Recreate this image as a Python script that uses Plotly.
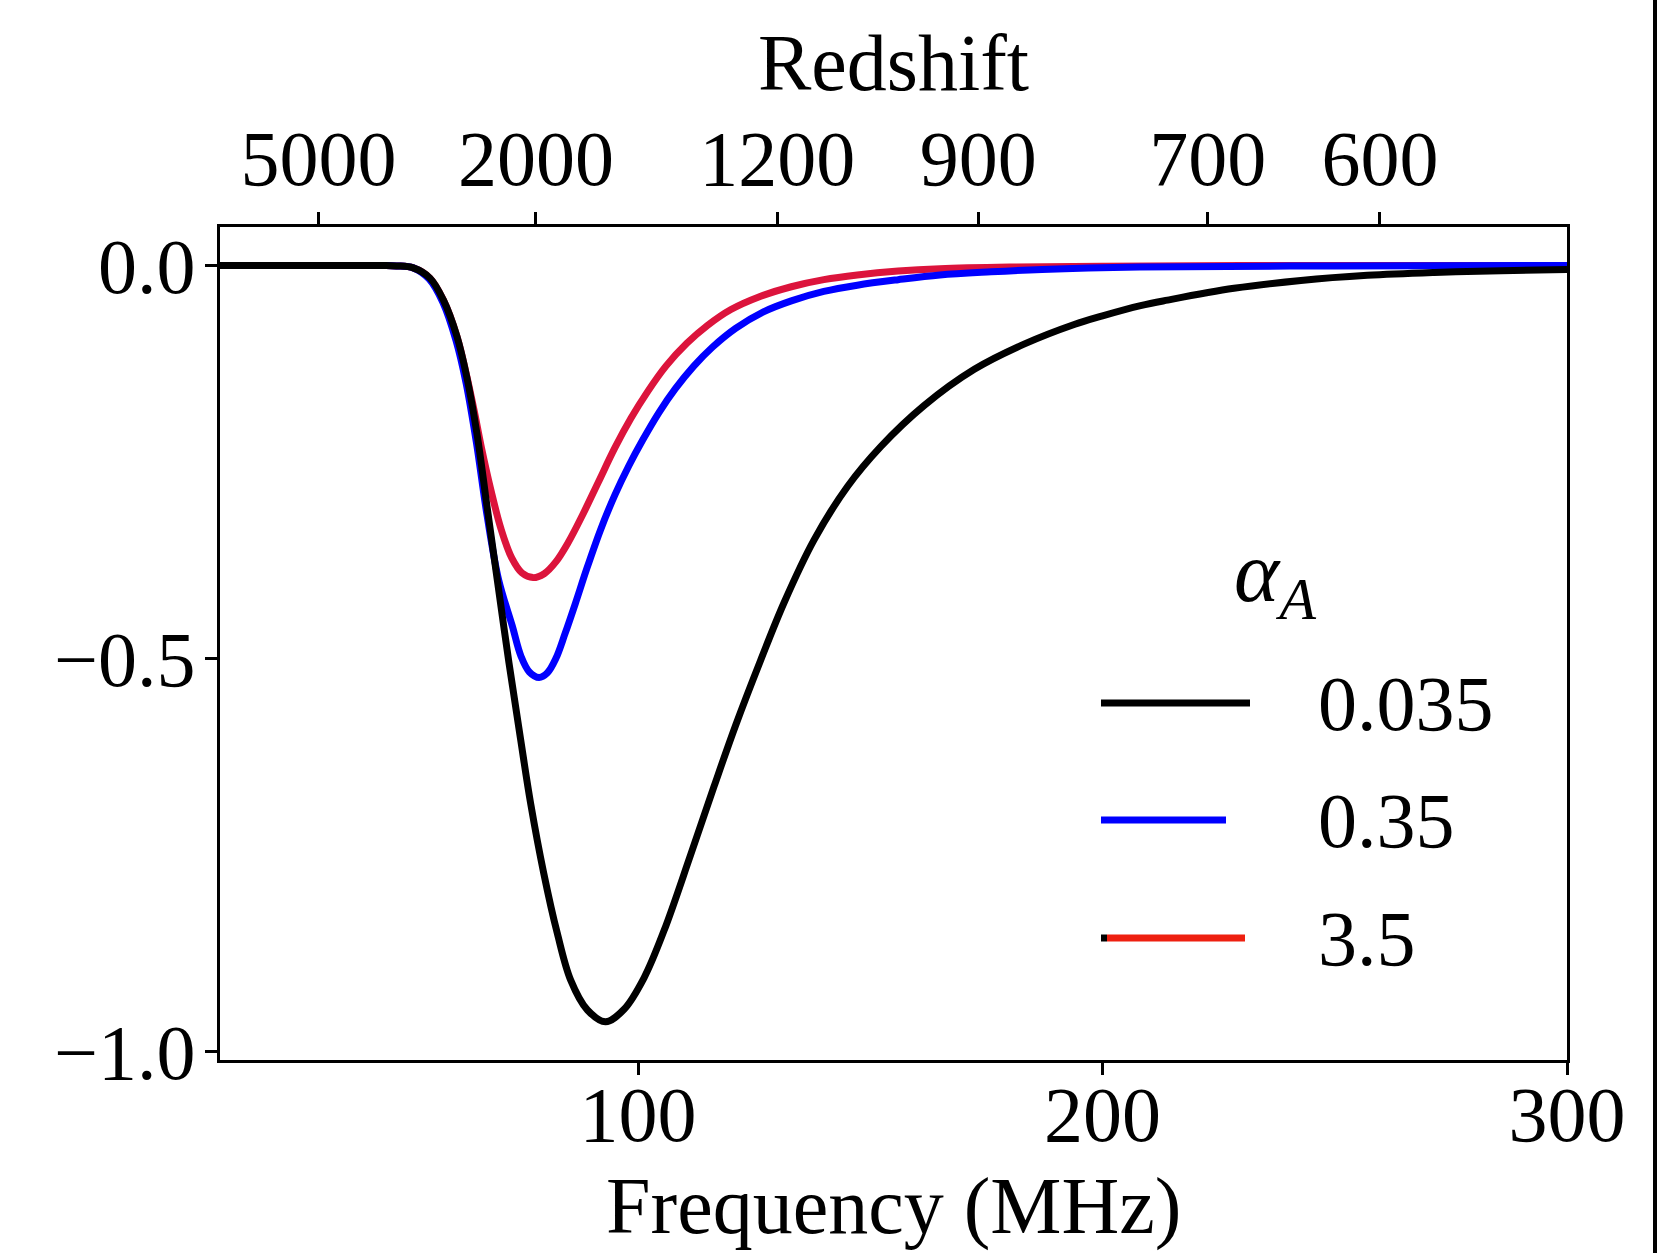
import plotly.graph_objects as go

# Absorption profile (normalised) versus frequency for three alpha_A values
freq_black = [10, 30, 45, 48, 51.6, 55.2, 58.1, 61.0, 63.1, 65.3, 67.5, 69.7, 72.2,
              74.7, 76.9, 79.7, 82.6, 85.5, 89.1, 93.0, 97.0, 101.3, 105.6, 111.3,
              116.4, 121.0, 126.4, 131.5, 137.9, 145.1, 152.3, 161.6, 172.4, 183.1,
              193.9, 200.0, 208.2, 214.0, 228.3, 242.7, 257.0, 271.4, 285.8, 300]
signal_black = [0, 0, 0, -0.0005, -0.003, -0.016, -0.044, -0.090, -0.141, -0.213, -0.307,
                -0.400, -0.505, -0.602, -0.685, -0.773, -0.849, -0.909, -0.947, -0.962,
                -0.946, -0.906, -0.846, -0.750, -0.662, -0.585, -0.502, -0.428, -0.349,
                -0.281, -0.230, -0.178, -0.132, -0.100, -0.075, -0.064, -0.051, -0.044,
                -0.029, -0.019, -0.0125, -0.0088, -0.0065, -0.005]

freq_blue = [10, 30, 45, 48, 51.6, 55.0, 58.0, 60.8, 63.0, 65.2, 67.5, 70.0, 72.9,
             74.8, 76.6, 78.7, 80.5, 82.3, 84.3, 86.5, 89.0, 92.0, 95.0, 98.0, 101.0,
             104.5, 108.0, 112.0, 116.0, 121.0, 127.0, 133.0, 140.0, 147.2, 156.0,
             165.0, 176.0, 187.0, 208.0, 250.0, 300]
signal_blue = [0, 0, 0, -0.0005, -0.003, -0.017, -0.047, -0.095, -0.150, -0.225, -0.318,
               -0.400, -0.458, -0.497, -0.517, -0.524, -0.518, -0.500, -0.468, -0.430,
               -0.385, -0.335, -0.292, -0.255, -0.222, -0.187, -0.157, -0.128, -0.104,
               -0.080, -0.059, -0.045, -0.033, -0.025, -0.018, -0.012, -0.008, -0.005,
               -0.002, -0.0005, 0]

freq_red = [10, 30, 45, 48, 51.6, 55.2, 58.1, 61.0, 63.1, 64.8, 66.3, 68.3, 70.5, 72.8,
            75.0, 77.4, 79.8, 82.3, 85.0, 88.0, 91.5, 95.0, 98.5, 102.0, 106.0, 110.5,
            115.0, 120.0, 126.0, 133.0, 140.0, 147.2, 156.0, 165.0, 180.0, 200.0, 230.0,
            300]
signal_red = [0, 0, 0, -0.0005, -0.003, -0.016, -0.044, -0.090, -0.140, -0.187, -0.232,
              -0.285, -0.335, -0.372, -0.391, -0.397, -0.392, -0.377, -0.352, -0.318,
              -0.275, -0.232, -0.194, -0.161, -0.128, -0.099, -0.076, -0.056, -0.040,
              -0.027, -0.018, -0.012, -0.007, -0.004, -0.002, -0.001, 0, 0]

alpha_labels = ["0.035", "0.35", "3.5"]
freq_ticks = [100, 200, 300]
y_ticks = [-1.0, -0.5, 0.0]
y_tick_text = ["\u22121.0", "\u22120.5", "0.0"]
z_ticks = [5000, 2000, 1200, 900, 700, 600]
NU_Z = 156100.0  # frequency (MHz) = NU_Z / (1 + z)

W, H = 1659, 1253
ML, MR, MT, MB = 220, 92, 227, 193
PW, PH = W - ML - MR, H - MT - MB
FONT = "Liberation Serif"
LW = 7
X_RANGE = [10, 300]


def px(X):
    return (X - ML) / PW


def py(Y):
    return (H - MB - Y) / PH


fig = go.Figure()
for f, s, c in [(freq_red, signal_red, "#dc143c"),
                (freq_blue, signal_blue, "#0000ff"),
                (freq_black, signal_black, "#000000")]:
    fig.add_trace(go.Scatter(x=f, y=s, mode="lines", showlegend=False,
                             line=dict(color=c, width=LW, shape="spline", smoothing=1.0)))

# empty companion trace so the redshift axis on top is rendered
fig.add_trace(go.Scatter(x=X_RANGE, y=[None, None], xaxis="x2", mode="lines",
                         showlegend=False, hoverinfo="skip"))

axis_common = dict(showgrid=False, zeroline=False, showline=True, linecolor="black",
                   linewidth=3, ticks="outside", ticklen=12, tickwidth=3, tickcolor="black",
                   tickfont=dict(family=FONT, size=78, color="black"))

fig.update_layout(
    width=W, height=H,
    margin=dict(l=ML, r=MR, t=MT, b=MB, pad=0),
    paper_bgcolor="white", plot_bgcolor="white",
    showlegend=False,
    xaxis=dict(range=X_RANGE, tickvals=freq_ticks, ticktext=[str(v) for v in freq_ticks],
               mirror=False, ticklabelstandoff=-28, **axis_common),
    xaxis2=dict(range=X_RANGE, overlaying="x", side="top", anchor="y",
                tickvals=[NU_Z / (1 + z) for z in z_ticks], ticktext=[str(z) for z in z_ticks],
                ticklabelstandoff=-4, **axis_common),
    yaxis=dict(range=[-1.0106, 0.049], tickvals=y_ticks, ticktext=y_tick_text,
               mirror=True, ticklabelstandoff=-6, **axis_common),
)

# axis titles
fig.add_annotation(text="Frequency (MHz)", xref="paper", yref="paper", x=px(893), y=py(1206),
                   showarrow=False, xanchor="center", yanchor="middle",
                   font=dict(family=FONT, size=80, color="black"))
fig.add_annotation(text="Redshift", xref="paper", yref="paper", x=px(893), y=py(63),
                   showarrow=False, xanchor="center", yanchor="middle",
                   font=dict(family=FONT, size=80, color="black"))

# legend
fig.add_annotation(text="<i>\u03b1</i><sub><i>A</i></sub>", xref="paper", yref="paper",
                   x=px(1275), y=py(578), showarrow=False, xanchor="center", yanchor="middle",
                   font=dict(family=FONT, size=86, color="black"))
legend_rows = [
    # (y, segments[(x0, x1, colour)])
    (703, [(1101, 1250, "#000000")]),
    (820, [(1101, 1226, "#0000ff")]),
    (938, [(1101, 1107, "#000000"), (1107, 1245, "#ee2010")]),
]
for (yrow, segs), lab in zip(legend_rows, alpha_labels):
    for x0, x1, col in segs:
        fig.add_shape(type="line", xref="paper", yref="paper", x0=px(x0), x1=px(x1),
                      y0=py(yrow), y1=py(yrow), line=dict(color=col, width=LW))
    fig.add_annotation(text=lab, xref="paper", yref="paper", x=px(1316), y=py(yrow),
                       showarrow=False, xanchor="left", yanchor="middle",
                       font=dict(family=FONT, size=78, color="black"))

# scanned page edge on the right
fig.add_shape(type="line", xref="paper", yref="paper", x0=px(1655), x1=px(1655),
              y0=py(0), y1=py(H), line=dict(color="black", width=4))

fig.write_html("out.html")
